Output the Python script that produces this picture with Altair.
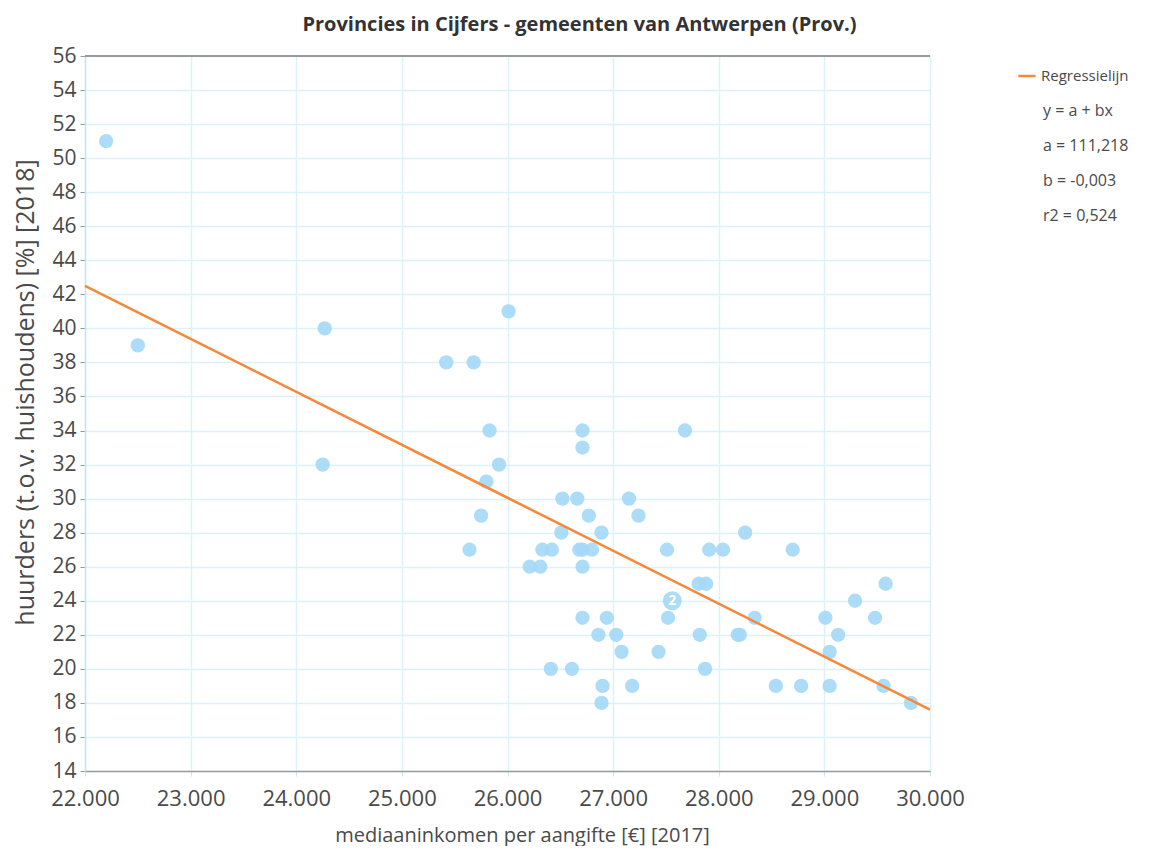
import altair as alt
import pandas as pd

# Scatter data: median income per tax return [EUR] (2017) vs tenants share [%] (2018)
inkomen = [
    22200, 22500, 24270, 24250, 25420, 25680, 26010, 25830, 25920, 25800,
    25750, 25640, 26710, 26710, 26520, 26660, 26510, 26770, 26890, 26420,
    26330, 26680, 26710, 26800, 26210, 26310, 26710, 27150, 27240, 27510,
    27680, 27910, 28040, 28250, 28700, 27810, 27880, 27560, 27560, 26710,
    26940, 27520, 26860, 27030, 27820, 28180, 28200, 28340, 27080, 27430,
    26410, 26610, 27870, 26900, 27180, 26890, 28540, 28780, 29050, 29010,
    29050, 29130, 29290, 29480, 29580, 29560, 29820,
]
huurders = [
    51, 39, 40, 32, 38, 38, 41, 34, 32, 31,
    29, 27, 34, 33, 30, 30, 28, 29, 28, 27,
    27, 27, 27, 27, 26, 26, 26, 30, 29, 27,
    34, 27, 27, 28, 27, 25, 25, 24, 24, 23,
    23, 23, 22, 22, 22, 22, 22, 23, 21, 21,
    20, 20, 20, 19, 19, 18, 19, 19, 19, 23,
    21, 22, 24, 23, 25, 19, 18,
]

# Regression line endpoints
reg_x = [22000, 30000]
reg_y = [42.5, 17.6]

legend_lines = ["y = a + bx", "a = 111,218", "b = -0,003", "r2 = 0,524"]

x_ticks = list(range(22000, 30001, 1000))
y_ticks = list(range(14, 57, 2))

FONT = "Open Sans"
TXT = "#4a4a4a"

df = pd.DataFrame({"x": inkomen, "y": huurders})
df_reg = pd.DataFrame({"x": reg_x, "y": reg_y, "s": ["Regressielijn"] * 2})
df_txt = pd.DataFrame({"t": ["\n".join(legend_lines)]})

xscale = alt.Scale(domain=[22000, 30000], nice=False, zero=False)
yscale = alt.Scale(domain=[14, 56], nice=False, zero=False)

xaxis = alt.Axis(
    values=x_ticks, tickCount=20, title="mediaaninkomen per aangifte [€] [2017]",
    labelExpr="replace(format(datum.value, ','), ',', '.')",
    labelFont=FONT, labelFontSize=22, labelColor=TXT, labelPadding=12,
    labelOverlap=False, labelFlush=False,
    titleFont=FONT, titleFontSize=20, titleFontWeight="normal", titleColor=TXT,
    titleX=437, titleY=64, titleBaseline="middle",
    domainColor="#9a9a9a", domainWidth=1.5, tickColor="#cfe6ee", tickSize=5,
    gridColor="#dcf1f8", gridWidth=1.5,
)
yaxis = alt.Axis(
    values=y_ticks, tickCount=40, title="huurders (t.o.v. huishoudens) [%] [2018]",
    labelFont=FONT, labelFontSize=21, labelColor=TXT, labelPadding=4,
    labelOverlap=False, labelFlush=False,
    titleFont=FONT, titleFontSize=25, titleFontWeight="normal", titleColor=TXT,
    titleX=-60, titleY=336, titleAngle=-90, titleAlign="center", titleBaseline="middle",
    domainColor="#c8e6f1", domainWidth=1.5, tickColor="#9a9a9a", tickSize=5,
    gridColor="#dcf1f8", gridWidth=1.5,
)

base = alt.Chart(df).transform_aggregate(n="count()", groupby=["x", "y"])

points = base.mark_circle(color="#a3d8f6", opacity=0.9).encode(
    x=alt.X("x:Q", scale=xscale, axis=xaxis),
    y=alt.Y("y:Q", scale=yscale, axis=yaxis),
    size=alt.condition("datum.n > 1", alt.value(360), alt.value(205)),
)

counts = base.transform_filter("datum.n > 1").mark_text(
    color="white", font=FONT, fontSize=14, fontWeight="bold"
).encode(x="x:Q", y="y:Q", text="n:Q")

line = alt.Chart(df_reg).mark_line(strokeWidth=2.5).encode(
    x="x:Q", y="y:Q",
    color=alt.Color(
        "s:N",
        scale=alt.Scale(domain=["Regressielijn"], range=["#f5883a"]),
        legend=alt.Legend(
            title=None, orient="none", legendX=932, legendY=10,
            symbolType="stroke", symbolStrokeWidth=2.5, symbolSize=300,
            labelFont=FONT, labelFontSize=15, labelColor=TXT,
        ),
    ),
)

top_border = alt.Chart(df_reg).mark_rule(color="#9a9a9a", strokeWidth=2).encode(
    x=alt.value(0), x2=alt.value(845), y=alt.value(0)
)

txt = alt.Chart(df_txt).mark_text(
    align="left", baseline="middle", lineBreak="\n", lineHeight=35,
    font=FONT, fontSize=16, color=TXT
).encode(x=alt.value(958), y=alt.value(55), text="t:N")

chart = alt.layer(points, line, counts, top_border, txt).properties(
    width=845, height=715,
    title=alt.TitleParams(
        "Provincies in Cijfers - gemeenten van Antwerpen (Prov.)",
        font=FONT, fontSize=20, fontWeight="bold", color="#333333",
        anchor="middle", dx=72, offset=10,
    ),
    autosize=alt.AutoSizeParams(type="none"),
    padding={"left": 77, "top": 48, "right": 217, "bottom": 75},
).configure_view(stroke="#c8e2ec", strokeWidth=1.5).configure(background="white")

chart.save("out.html", embed_options={"renderer": "svg", "actions": False})
